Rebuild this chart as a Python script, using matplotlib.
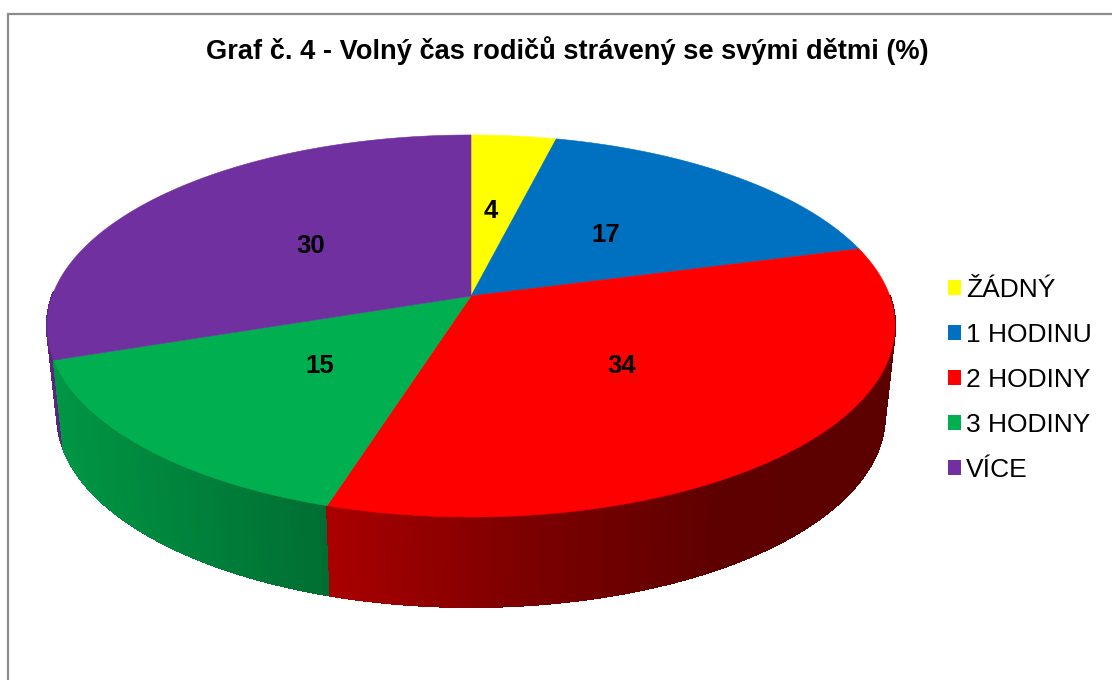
import numpy as np
import matplotlib
matplotlib.use("Agg")
import matplotlib.pyplot as plt
from matplotlib.collections import PolyCollection
from matplotlib.patches import Polygon, Patch

title = "Graf č. 4 - Volný čas rodičů strávený se svými dětmi (%)"
categories = ["ŽÁDNÝ", "1 HODINU", "2 HODINY", "3 HODINY", "VÍCE"]
values = [4, 17, 34, 15, 30]
colors = ["#FFFF00", "#0070C0", "#FF0000", "#00B050", "#7030A0"]
label_xy = [(491, 211), (606, 235), (622, 366), (320, 366), (311, 246)]

# side shading: x stops and brightness factors per slice
shade_x = [[0, 1112], [0, 1112], [330, 520, 720, 900], [55, 330], [40, 80]]
shade_f = [[.6, .6], [.6, .6], [.66, .49, .37, .36], [.85, .62], [.8, .8]]

CX, CY, A, B, K = 471.0, 296.0, 418.8, 186.3, 0.157
DEPTH, SHRINK, WARP = 90.0, 0.976, 0.94


def project(theta):
    """Clockwise angle from 12 o'clock on a unit disc -> tilted perspective pixels."""
    t = np.arctan2(WARP * np.sin(theta), np.cos(theta))
    X, Y = np.sin(t), np.cos(t)
    w = 1 + K * Y
    return CX + A * X / w, CY - B * Y / w


def rgb(h):
    return np.array(matplotlib.colors.to_rgb(h))


fig = plt.figure(figsize=(11.12, 6.8), dpi=100, facecolor="white")
ax = fig.add_axes([0, 0, 1, 1])
ax.set_xlim(0, 1112)
ax.set_ylim(680, 0)
ax.axis("off")

# frame
ax.plot([8, 8, 1112], [680, 13.5, 13.5], color="#8C8C8C", lw=1.6, solid_joinstyle="miter", zorder=0)

fractions = np.cumsum([0] + values) / sum(values)
edges = 2 * np.pi * fractions

# side walls, back slices first; the far half of the rim is hidden by the top face
for i in reversed(range(len(values))):
    t = np.linspace(edges[i], edges[i + 1], max(int(values[i] * 3), 8) + 1)
    x, y = project(t)
    xb = CX + SHRINK * (x - CX)
    yb = y + DEPTH
    polys, cols = [], []
    for j in range(len(t) - 1):
        if np.cos(t[j]) > 0 and np.cos(t[j + 1]) > 0:
            continue
        polys.append([(x[j], y[j]), (x[j + 1], y[j + 1]), (xb[j + 1], yb[j + 1]), (xb[j], yb[j])])
        f = np.interp((x[j] + x[j + 1]) / 2, shade_x[i], shade_f[i])
        cols.append(rgb(colors[i]) * f)
    if polys:
        ax.add_collection(PolyCollection(polys, facecolors=cols, edgecolors=cols, linewidths=0.8,
                                         antialiaseds=False, zorder=2))

# top faces
for i in range(len(values)):
    t = np.linspace(edges[i], edges[i + 1], 200)
    x, y = project(t)
    pts = np.column_stack([np.r_[CX, x], np.r_[CY, y]])
    ax.add_patch(Polygon(pts, closed=True, facecolor=colors[i], edgecolor=colors[i], lw=0.4, zorder=3))

# value labels
for v, (lx, ly) in zip(values, label_xy):
    ax.text(lx, ly, str(v), ha="center", va="center", fontsize=18.5, fontweight="bold",
            family="Liberation Sans", color="black", zorder=5)

ax.text(567, 51, title, ha="center", va="center", fontsize=19.6, fontweight="bold",
        family="Liberation Sans", color="black")

handles = [Patch(facecolor=c, edgecolor="none") for c in colors]
leg = ax.legend(handles, categories, loc="center left", bbox_to_anchor=(948 / 1112, 1 - 380 / 680),
                bbox_transform=ax.transAxes, frameon=False, borderpad=0, borderaxespad=0,
                handlelength=0.49, handleheight=0.49, handletextpad=0.19, labelspacing=0.795,
                prop={"family": "Liberation Sans", "size": 19})

fig.savefig("out.png", dpi=100)
